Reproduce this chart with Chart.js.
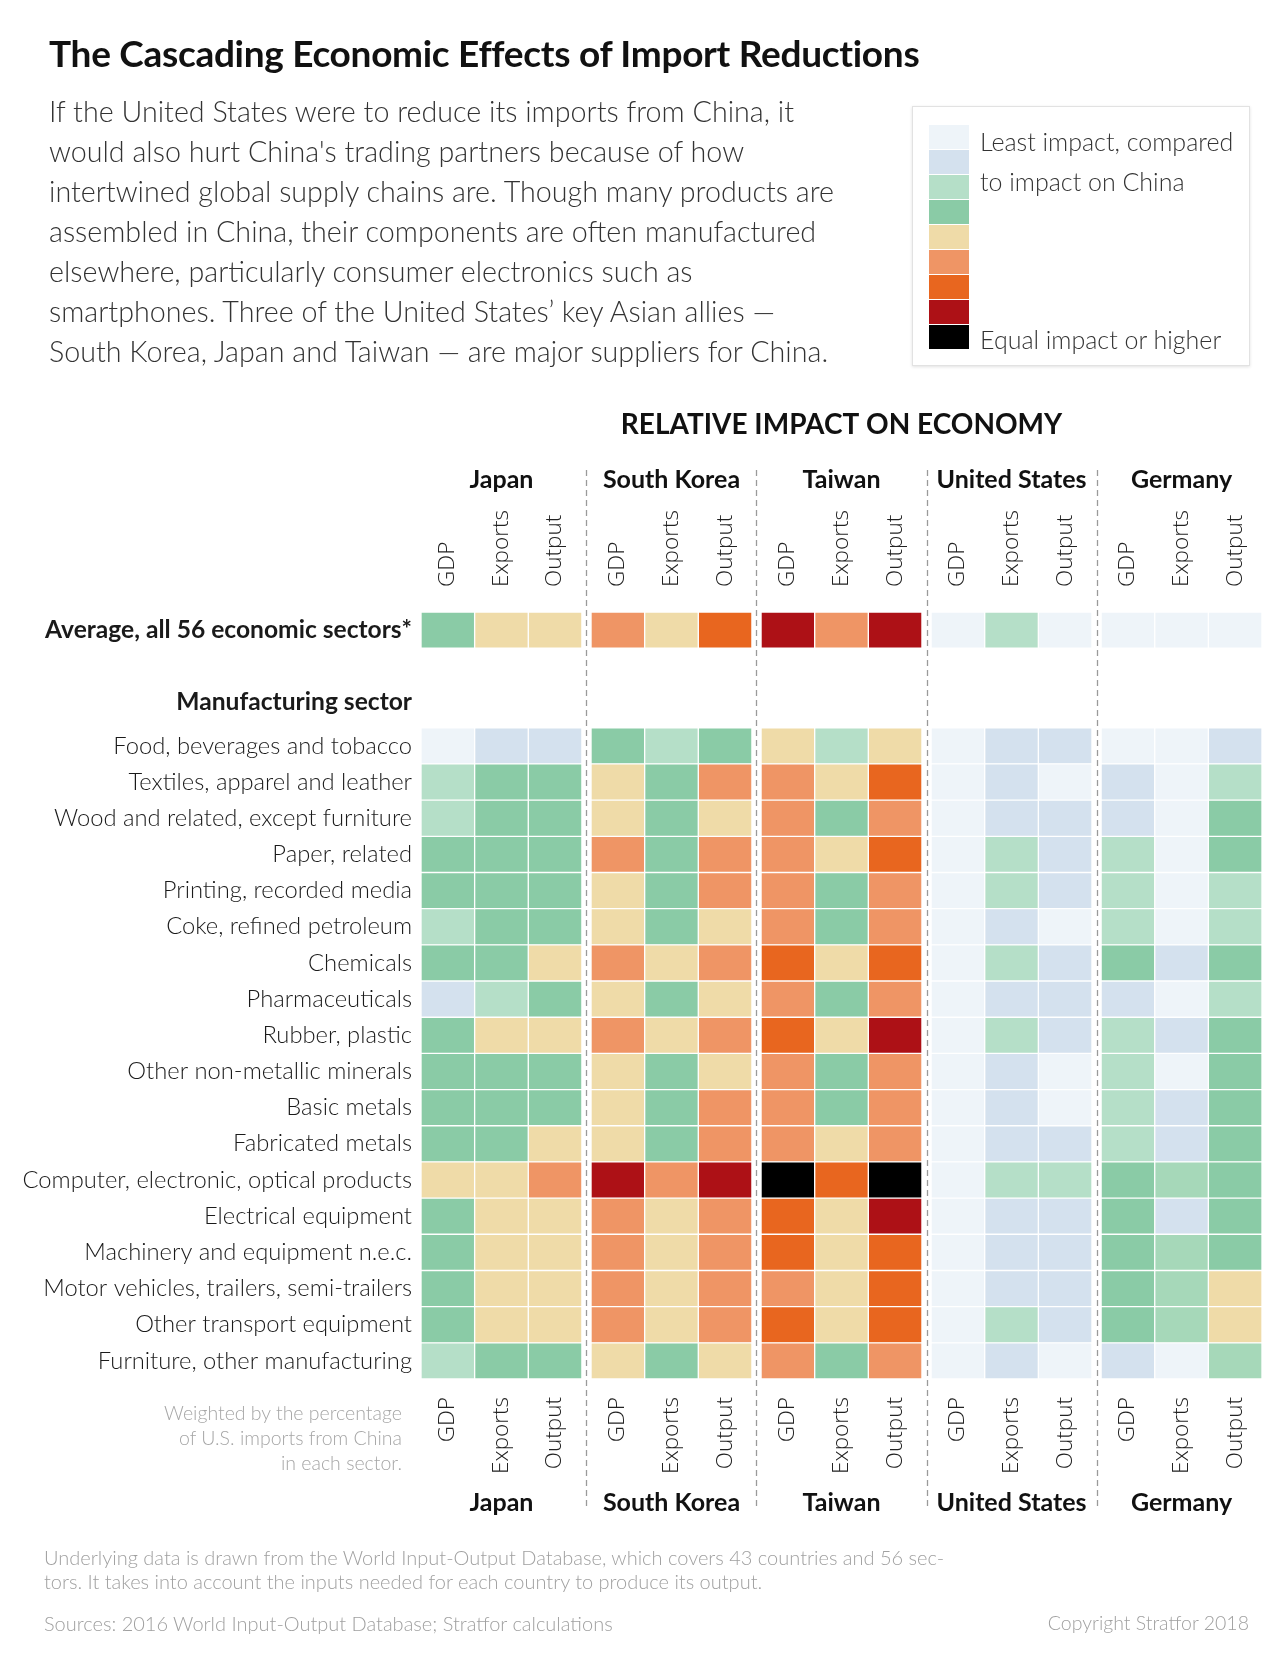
<!DOCTYPE html>
<html>
<head>
<meta charset="utf-8">
<title>The Cascading Economic Effects of Import Reductions</title>
<script src="https://cdn.jsdelivr.net/npm/chart.js@4.4.1/dist/chart.umd.min.js"></script>
<style>
  body { margin: 0; background: #fff; }
  #page { position: relative; width: 1280px; height: 1656px; font-family: Lato, "Open Sans", sans-serif; color: #222; overflow: hidden; }
  #chartBox { position: absolute; left: 0; top: 0; width: 1280px; height: 1656px; }
  h1 { position: absolute; left: 49px; top: 32px; margin: 0; font-size: 37px; line-height: 42px; font-weight: 700; letter-spacing: -0.3px; color: #111; }
  .intro { position: absolute; left: 49px; top: 91px; margin: 0; font-size: 28.7px; line-height: 40px; font-weight: 300; color: #333; }
  .legend { position: absolute; left: 912px; top: 106px; width: 336px; height: 258px; border: 1px solid #e2e2e2; box-shadow: 0 1px 3px rgba(0,0,0,0.12); background: #fff; }
  .legend .sw { position: absolute; left: 16px; width: 40px; height: 24px; }
  .legend .lt { position: absolute; left: 67px; font-size: 25px; font-weight: 300; line-height: 28px; color: #333; white-space: nowrap; }
  .note { position: absolute; right: 878px; top: 1400px; text-align: right; font-size: 19.5px; line-height: 25px; font-weight: 300; color: #a6a6a6; white-space: nowrap; }
  .foot { position: absolute; left: 44px; font-size: 20px; line-height: 24px; font-weight: 300; color: #a0a0a0; white-space: nowrap; }
  .copy { position: absolute; right: 31px; top: 1611px; font-size: 19.5px; line-height: 24px; font-weight: 300; color: #a0a0a0; }
</style>
</head>
<body>
<div id="page">
  <div id="chartBox"><canvas id="heat"></canvas></div>
  <h1>The Cascading Economic Effects of Import Reductions</h1>
  <p class="intro">If the United States were to reduce its imports from China, it<br>would also hurt China's trading partners because of how<br>intertwined global supply chains are. Though many products are<br>assembled in China, their components are often manufactured<br>elsewhere, particularly consumer electronics such as<br>smartphones. Three of the United States’ key Asian allies —<br>South Korea, Japan and Taiwan — are major suppliers for China.</p>
  <div class="legend" id="legend">
    <div class="lt" style="top:20px">Least impact, compared</div>
    <div class="lt" style="top:60px">to impact on China</div>
    <div class="lt" style="top:218px">Equal impact or higher</div>
  </div>
  <div class="note">Weighted by the percentage<br>of U.S. imports from China<br>in each sector.</div>
  <div class="foot" style="top:1545px">Underlying data is drawn from the World Input-Output Database, which covers 43 countries and 56 sec-</div>
  <div class="foot" style="top:1569px">tors. It takes into account the inputs needed for each country to produce its output.</div>
  <div class="foot" style="top:1611px">Sources: 2016 World Input-Output Database; Stratfor calculations</div>
  <div class="copy">Copyright Stratfor 2018</div>
</div>
<script>
// impact levels: 1 = least impact ... 9 = equal impact or higher (vs China)
const COUNTRIES = ['Japan', 'South Korea', 'Taiwan', 'United States', 'Germany'];
const MEASURES = ['GDP', 'Exports', 'Output'];
const AVERAGE_LABEL = 'Average, all 56 economic sectors*';
const SECTION_LABEL = 'Manufacturing sector';
const SECTORS = [
    'Food, beverages and tobacco',
    'Textiles, apparel and leather',
    'Wood and related, except furniture',
    'Paper, related',
    'Printing, recorded media',
    'Coke, refined petroleum',
    'Chemicals',
    'Pharmaceuticals',
    'Rubber, plastic',
    'Other non-metallic minerals',
    'Basic metals',
    'Fabricated metals',
    'Computer, electronic, optical products',
    'Electrical equipment',
    'Machinery and equipment n.e.c.',
    'Motor vehicles, trailers, semi-trailers',
    'Other transport equipment',
    'Furniture, other manufacturing',
];

// [GDP, Exports, Output] per country
const AVERAGE = [[4, 5, 5], [6, 5, 7], [8, 6, 8], [1, 3, 1], [1, 1, 1]];

// one row per sector, [GDP, Exports, Output]
const JAPAN = [
    [1, 2, 2], [3, 4, 4], [3, 4, 4], [4, 4, 4], [4, 4, 4], [3, 4, 4],
    [4, 4, 5], [2, 3, 4], [4, 5, 5], [4, 4, 4], [4, 4, 4], [4, 4, 5],
    [5, 5, 6], [4, 5, 5], [4, 5, 5], [4, 5, 5], [4, 5, 5], [3, 4, 4],
];
const SOUTH_KOREA = [
    [4, 3, 4], [5, 4, 6], [5, 4, 5], [6, 4, 6], [5, 4, 6], [5, 4, 5],
    [6, 5, 6], [5, 4, 5], [6, 5, 6], [5, 4, 5], [5, 4, 6], [5, 4, 6],
    [8, 6, 8], [6, 5, 6], [6, 5, 6], [6, 5, 6], [6, 5, 6], [5, 4, 5],
];
const TAIWAN = [
    [5, 3, 5], [6, 5, 7], [6, 4, 6], [6, 5, 7], [6, 4, 6], [6, 4, 6],
    [7, 5, 7], [6, 4, 6], [7, 5, 8], [6, 4, 6], [6, 4, 6], [6, 5, 6],
    [9, 7, 9], [7, 5, 8], [7, 5, 7], [6, 5, 7], [7, 5, 7], [6, 4, 6],
];
const UNITED_STATES = [
    [1, 2, 2], [1, 2, 1], [1, 2, 2], [1, 3, 2], [1, 3, 2], [1, 2, 1],
    [1, 3, 2], [1, 2, 2], [1, 3, 2], [1, 2, 1], [1, 2, 1], [1, 2, 2],
    [1, 3, 3], [1, 2, 2], [1, 2, 2], [1, 2, 2], [1, 3, 2], [1, 2, 1],
];
const GERMANY = [
    [1, 1, 2], [2, 1, 3], [2, 1, 4], [3, 1, 4], [3, 1, 3], [3, 1, 3],
    [4, 2, 4], [2, 1, 3], [3, 2, 4], [3, 1, 4], [3, 2, 4], [3, 2, 4],
    [4, 3.5, 4], [4, 2, 4], [4, 3.5, 4], [4, 3.5, 5], [4, 3.5, 5], [2, 1, 3.5],
];

const COUNTRY_DATA = [JAPAN, SOUTH_KOREA, TAIWAN, UNITED_STATES, GERMANY];

const PALETTE = {
    1: '#eef4f9', 2: '#d4e1ee', 3: '#b5dfc8', 3.5: '#a6d8b9', 4: '#8acba6',
    5: '#efdba8', 6: '#ef9565', 7: '#e8661f', 8: '#ad1116', 9: '#000000',
};
const LEGEND_LEVELS = [1, 2, 3, 4, 5, 6, 7, 8, 9];

// layout (in scale units)
const GROUP_GAP = 0.17;
const AVG_ROW = -3.2;
const SECTION_ROW = -1.21;

const legendEl = document.getElementById('legend');
LEGEND_LEVELS.forEach((lv, i) => {
    const d = document.createElement('div');
    d.className = 'sw';
    d.style.top = (18 + i * 25) + 'px';
    d.style.background = PALETTE[lv];
    legendEl.appendChild(d);
});

const colStart = (g, m) => g * (3 + GROUP_GAP) + m;

const datasets = [];
COUNTRIES.forEach((country, g) => {
    MEASURES.forEach((measure, m) => {
        const x0 = colStart(g, m);
        const points = [{y: AVG_ROW, x: [x0, x0 + 1], v: AVERAGE[g][m]}];
        COUNTRY_DATA[g].forEach((row, i) => {
            points.push({y: i, x: [x0, x0 + 1], v: row[m]});
        });
        datasets.push({
            label: country + ' ' + measure,
            data: points,
            grouped: false,
            backgroundColor: (ctx) => PALETTE[ctx.raw.v],
            borderColor: '#ffffff',
            borderWidth: 1,
            borderSkipped: false,
            barPercentage: 1,
            categoryPercentage: 1,
        });
    });
});

const rowTicks = [{value: AVG_ROW, label: AVERAGE_LABEL, bold: true},
    {value: SECTION_ROW, label: SECTION_LABEL, bold: true}]
    .concat(SECTORS.map((s, i) => ({value: i, label: s, bold: false})));

const decorations = {
    id: 'decorations',
    afterDraw(chart) {
        const {ctx, chartArea, scales: {x}} = chart;
        const top = chartArea.top, bottom = chartArea.bottom;
        ctx.save();

        // dashed separators between countries
        ctx.strokeStyle = '#9a9a9a';
        ctx.lineWidth = 1.3;
        ctx.setLineDash([6, 4]);
        for (let g = 1; g < COUNTRIES.length; g++) {
            const px = Math.round(x.getPixelForValue(colStart(g, 0) - GROUP_GAP / 2)) + 0.5;
            ctx.beginPath();
            ctx.moveTo(px, top - 142);
            ctx.lineTo(px, bottom + 131);
            ctx.stroke();
        }
        ctx.setLineDash([]);

        ctx.fillStyle = '#111';
        ctx.textAlign = 'center';
        ctx.textBaseline = 'middle';
        ctx.font = '700 28px Lato';
        ctx.fillText('RELATIVE IMPACT ON ECONOMY', (chartArea.left + chartArea.right) / 2, top - 187);

        ctx.font = '700 25px Lato';
        COUNTRIES.forEach((c, g) => {
            const cx = x.getPixelForValue(colStart(g, 1.5));
            ctx.fillText(c, cx, top - 132);
            ctx.fillText(c, cx, bottom + 124);
        });

        ctx.font = '300 22.5px "Open Sans"';
        ctx.fillStyle = '#222';
        COUNTRIES.forEach((c, g) => {
            MEASURES.forEach((mLabel, m) => {
                const cx = x.getPixelForValue(colStart(g, m + 0.5));
                ctx.save();
                ctx.translate(cx, top - 25);
                ctx.rotate(-Math.PI / 2);
                ctx.textAlign = 'left';
                ctx.fillText(mLabel, 0, 0);
                ctx.restore();
                ctx.save();
                ctx.translate(cx, bottom + 18);
                ctx.rotate(-Math.PI / 2);
                ctx.textAlign = 'right';
                ctx.fillText(mLabel, 0, 0);
                ctx.restore();
            });
        });
        ctx.restore();
    }
};

new Chart(document.getElementById('heat'), {
    type: 'bar',
    data: {datasets: datasets},
    options: {
        indexAxis: 'y',
        responsive: true,
        maintainAspectRatio: false,
        animation: false,
        layout: {padding: {left: 0, right: 18, top: 612, bottom: 277}},
        plugins: {
            legend: {display: false},
            tooltip: {enabled: false},
        },
        scales: {
            x: {
                type: 'linear',
                display: false,
                offset: false,
                min: 0,
                max: COUNTRIES.length * 3 + (COUNTRIES.length - 1) * GROUP_GAP,
            },
            y: {
                type: 'linear',
                reverse: true,
                offset: false,
                min: AVG_ROW - 0.5,
                max: SECTORS.length - 0.5,
                grid: {display: false, drawTicks: false},
                border: {display: false},
                afterBuildTicks: (scale) => {
                    scale.ticks = rowTicks.map(t => ({value: t.value}));
                },
                afterFit: (scale) => {
                    scale.width = 421;
                },
                ticks: {
                    autoSkip: false,
                    padding: 9,
                    color: '#1a1a1a',
                    callback: (value) => {
                        const t = rowTicks.find(r => r.value === value);
                        return t ? t.label : '';
                    },
                    font: (ctx) => {
                        const t = ctx.tick ? rowTicks.find(r => r.value === ctx.tick.value) : null;
                        return t && t.bold
                            ? {family: 'Lato', size: 24.6, weight: 700}
                            : {family: 'Lato', size: 23.75, weight: 300};
                    },
                },
            },
        },
    },
    plugins: [decorations],
});
</script>
</body>
</html>
